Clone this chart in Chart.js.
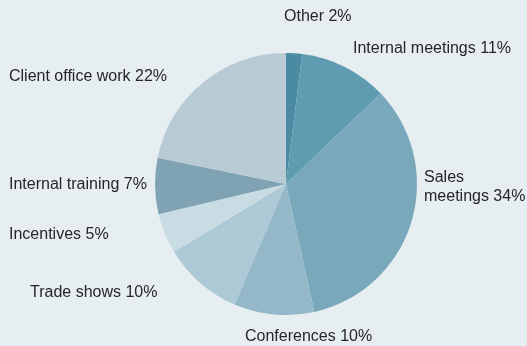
<!DOCTYPE html>
<html>
<head>
<meta charset="utf-8">
<script src="https://cdn.jsdelivr.net/npm/chart.js@4/dist/chart.umd.min.js"></script>
<style>
  html, body { margin: 0; padding: 0; background: #e6eef2; }
  #wrap { width: 527px; height: 346px; position: relative; }
</style>
</head>
<body>
<div id="wrap"><canvas id="timeChart"></canvas></div>
<script>
// Share of working time by activity (%)
const categories = ['Other', 'Internal meetings', 'Sales meetings', 'Conferences',
  'Trade shows', 'Incentives', 'Internal training', 'Client office work'];
const shares = [2, 11, 34, 10, 10, 5, 7, 22];
const sliceColors = ['#4a8ba1', '#5f9cb1', '#7aa8bb', '#95b8c8',
  '#adc9d5', '#c9dce4', '#7fa3b3', '#b8cbd5'];

// where each label sits (x, y of the first line, alignment); Sales wraps to two lines
const labelLayout = [
  { x: 284, y: 17, align: 'left' },
  { x: 353, y: 49, align: 'left' },
  { x: 424, y: 178, align: 'left', wrap: true },
  { x: 245, y: 337, align: 'left' },
  { x: 30, y: 293, align: 'left' },
  { x: 9, y: 235, align: 'left' },
  { x: 9, y: 185, align: 'left' },
  { x: 9, y: 77, align: 'left' }
];

const sliceLabels = {
  id: 'sliceLabels',
  afterDraw(chart) {
    const ctx = chart.ctx;
    ctx.save();
    ctx.fillStyle = '#262626';
    ctx.font = '16px "Liberation Sans", Arial, sans-serif';
    ctx.textBaseline = 'middle';
    categories.forEach((name, i) => {
      const pos = labelLayout[i];
      const text = name + ' ' + shares[i] + '%';
      ctx.textAlign = pos.align;
      if (pos.wrap) {
        const words = name.split(' ');
        ctx.fillText(words[0], pos.x, pos.y);
        ctx.fillText(words.slice(1).join(' ') + ' ' + shares[i] + '%', pos.x, pos.y + 19);
      } else {
        ctx.fillText(text, pos.x, pos.y);
      }
    });
    ctx.restore();
  }
};

new Chart(document.getElementById('timeChart'), {
  type: 'pie',
  data: {
    labels: categories,
    datasets: [{
      data: shares,
      backgroundColor: sliceColors,
      borderWidth: 0
    }]
  },
  options: {
    responsive: true,
    maintainAspectRatio: false,
    animation: false,
    layout: { padding: { top: 53, bottom: 31, left: 155, right: 110 } },
    plugins: {
      legend: { display: false },
      tooltip: { enabled: false }
    }
  },
  plugins: [sliceLabels]
});
</script>
</body>
</html>
